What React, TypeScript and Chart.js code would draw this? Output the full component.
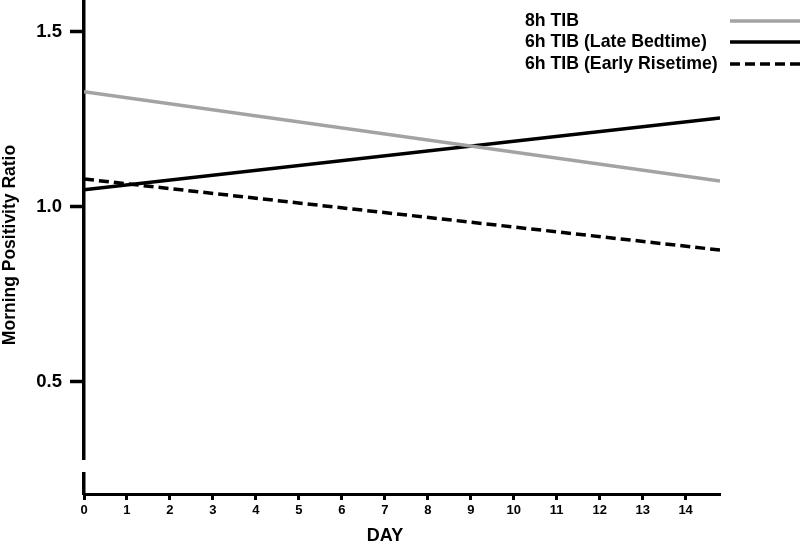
import React, { useEffect, useRef } from "react";
import { Chart, registerables } from "chart.js";

Chart.register(...registerables);

const days = [0, 14.8];
const tib8 = [1.329, 1.074];
const lateBed = [1.049, 1.254];
const earlyRise = [1.08, 0.877];
const seriesLabels = ["8h TIB", "6h TIB (Late Bedtime)", "6h TIB (Early Risetime)"];
const xTickValues = [0, 1, 2, 3, 4, 5, 6, 7, 8, 9, 10, 11, 12, 13, 14];
const yTickValues = [0.5, 1.0, 1.5];
const xTitle = "DAY";
const yTitle = "Morning Positivity Ratio";

const FONT = "'Liberation Sans', Arial, sans-serif";
const GREY = "#a3a3a3";

const legendPlugin = {
  id: "customLegend",
  afterDraw(chart: any) {
    const ctx = chart.ctx;
    const rows = [21, 42, 64];
    ctx.save();
    chart.data.datasets.forEach((ds: any, i: number) => {
      const y = rows[i];
      ctx.font = `bold 17.7px ${FONT}`;
      ctx.fillStyle = "#000";
      ctx.textAlign = "left";
      ctx.textBaseline = "middle";
      ctx.fillText(ds.label, 525, y);
      ctx.beginPath();
      ctx.strokeStyle = ds.borderColor;
      ctx.lineWidth = ds.borderWidth;
      ctx.setLineDash(ds.borderDash || []);
      ctx.moveTo(730, y);
      ctx.lineTo(800, y);
      ctx.stroke();
    });
    ctx.restore();
  },
};

const titlesPlugin = {
  id: "axisTitles",
  afterDraw(chart: any) {
    const ctx = chart.ctx;
    ctx.save();
    ctx.fillStyle = "#000";
    ctx.textAlign = "center";
    ctx.textBaseline = "middle";
    ctx.font = `bold 18px ${FONT}`;
    ctx.fillText(xTitle, 385, 536);
    ctx.translate(10, 245);
    ctx.rotate(-Math.PI / 2);
    ctx.font = `bold 17.5px ${FONT}`;
    ctx.fillText(yTitle, 0, 0);
    ctx.restore();
  },
};

const breakPlugin = {
  id: "axisBreak",
  afterDraw(chart: any) {
    const ctx = chart.ctx;
    const left = chart.chartArea.left;
    ctx.save();
    ctx.fillStyle = "#fff";
    ctx.fillRect(left - 6, 460, 12, 12);
    ctx.restore();
  },
};

export default function App() {
  const ref = useRef<HTMLCanvasElement | null>(null);
  useEffect(() => {
    if (!ref.current) return;
    const mk = (vals: number[]) => days.map((d, i) => ({ x: d, y: vals[i] }));
    const chart = new Chart(ref.current, {
      type: "line",
      data: {
        datasets: [
          { label: seriesLabels[0], data: mk(tib8), borderColor: GREY, borderWidth: 3.5, pointRadius: 0, fill: false },
          { label: seriesLabels[1], data: mk(lateBed), borderColor: "#000", borderWidth: 3.5, pointRadius: 0, fill: false },
          { label: seriesLabels[2], data: mk(earlyRise), borderColor: "#000", borderWidth: 3.5, borderDash: [10, 5], pointRadius: 0, fill: false },
        ],
      },
      options: {
        animation: false,
        responsive: false,
        maintainAspectRatio: false,
        layout: { padding: { left: 0, right: 80, top: 0, bottom: 0 } },
        plugins: { legend: { display: false }, tooltip: { enabled: false } },
        scales: {
          x: {
            type: "linear",
            min: 0,
            max: 14.8,
            afterFit: (s: any) => { s.height = 49; s.paddingLeft = 0; s.paddingRight = 0; },
            afterBuildTicks: (s: any) => { s.ticks = xTickValues.map((v) => ({ value: v })); },
            border: { color: "#000", width: 3 },
            grid: { drawOnChartArea: false, tickLength: 6, tickWidth: 3, tickColor: "#000" },
            ticks: { color: "#000", font: { family: FONT, size: 13, weight: "bold" }, padding: 3, maxRotation: 0, autoSkip: false },
            title: { display: false },
          },
          y: {
            type: "linear",
            min: 0.18,
            max: 1.5914,
            afterFit: (s: any) => { s.width = 84; s.paddingTop = 0; s.paddingBottom = 0; },
            afterBuildTicks: (s: any) => { s.ticks = yTickValues.map((v) => ({ value: v })); },
            border: { color: "#000", width: 3.5 },
            grid: { drawOnChartArea: false, tickLength: 14, tickWidth: 3.5, tickColor: "#000" },
            ticks: { color: "#000", font: { family: FONT, size: 18.5, weight: "bold" }, padding: 8, callback: (v: any) => Number(v).toFixed(1) },
            title: { display: false },
          },
        },
      },
      plugins: [legendPlugin, breakPlugin, titlesPlugin],
    } as any);
    return () => chart.destroy();
  }, []);
  return (
    <div style={{ position: "fixed", left: 0, top: 0, width: 800, height: 543, background: "#fff" }}>
      <canvas ref={ref} width={800} height={543} style={{ width: 800, height: 543, display: "block" }} />
    </div>
  );
}
